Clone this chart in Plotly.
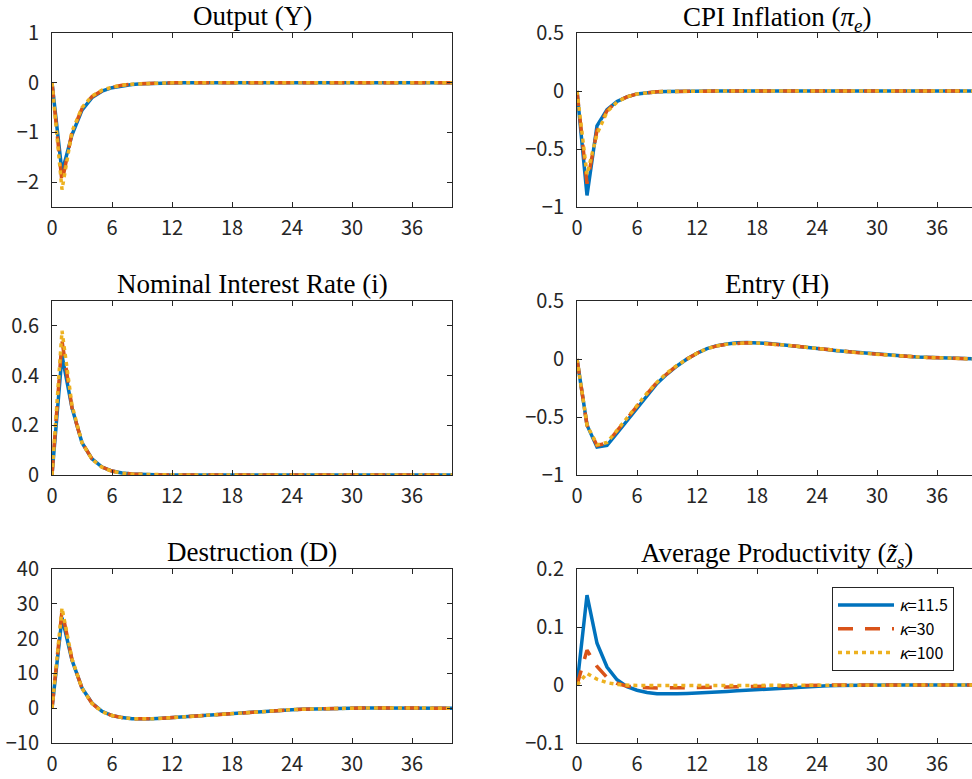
import plotly.graph_objects as go

# ---------------- data ----------------
quarters = list(range(41))
kappa_labels = ["<i>κ</i>=11.5", "<i>κ</i>=30", "<i>κ</i>=100"]
titles = ["Output (Y)", "CPI Inflation (<i>π<sub>e</sub></i>)",
          "Nominal Interest Rate (i)", "Entry (H)",
          "Destruction (D)", "Average Productivity (<i>z̃<sub>s</sub></i>)"]
xtick_vals = [0, 6, 12, 18, 24, 30, 36]

Z = [0.0] * 20

Y_k11 = [0, -1.80, -1.05, -0.55, -0.30, -0.17, -0.10, -0.06, -0.035, -0.02, -0.012, -0.007, -0.004, -0.002, -0.001, 0, 0, 0, 0, 0, 0] + Z
Y_k30 = [0, -2.00, -1.00, -0.52, -0.28, -0.16, -0.09, -0.05, -0.03, -0.018, -0.010, -0.006, -0.003, -0.002, -0.001, 0, 0, 0, 0, 0, 0] + Z
Y_k100 = [0, -2.15, -0.98, -0.50, -0.27, -0.15, -0.09, -0.05, -0.03, -0.017, -0.010, -0.006, -0.003, -0.002, -0.001, 0, 0, 0, 0, 0, 0] + Z

pi_k11 = [0, -0.90, -0.30, -0.16, -0.09, -0.05, -0.025, -0.013, -0.007, -0.004, -0.002, -0.001, 0, 0, 0, 0, 0, 0, 0, 0, 0] + Z
pi_k30 = [0, -0.80, -0.34, -0.17, -0.09, -0.05, -0.025, -0.013, -0.007, -0.004, -0.002, -0.001, 0, 0, 0, 0, 0, 0, 0, 0, 0] + Z
pi_k100 = [0, -0.72, -0.37, -0.18, -0.095, -0.05, -0.026, -0.013, -0.007, -0.004, -0.002, -0.001, 0, 0, 0, 0, 0, 0, 0, 0, 0] + Z

i_k11 = [0, 0.48, 0.27, 0.13, 0.065, 0.032, 0.016, 0.008, 0.004, 0.002, 0.001, 0, 0, 0, 0, 0, 0, 0, 0, 0, 0] + Z
i_k30 = [0, 0.54, 0.27, 0.13, 0.065, 0.032, 0.016, 0.008, 0.004, 0.002, 0.001, 0, 0, 0, 0, 0, 0, 0, 0, 0, 0] + Z
i_k100 = [0, 0.58, 0.28, 0.13, 0.063, 0.031, 0.015, 0.007, 0.003, 0.002, 0.001, 0, 0, 0, 0, 0, 0, 0, 0, 0, 0] + Z

H_k11 = [0, -0.57, -0.76, -0.745, -0.64, -0.53, -0.42, -0.31, -0.21, -0.13, -0.06, 0.0, 0.05, 0.09, 0.115,
         0.13, 0.14, 0.142, 0.14, 0.135, 0.128, 0.12, 0.11, 0.10, 0.09, 0.081, 0.072, 0.064, 0.056, 0.048,
         0.041, 0.035, 0.029, 0.023, 0.018, 0.014, 0.010, 0.007, 0.004, 0.002, 0.0]
H_k30 = [0, -0.57, -0.745, -0.725, -0.62, -0.51, -0.40, -0.30, -0.20, -0.125, -0.055, 0.0, 0.05, 0.09, 0.113,
         0.128, 0.137, 0.14, 0.138, 0.133, 0.126, 0.118, 0.109, 0.099, 0.089, 0.080, 0.071, 0.063, 0.055, 0.047,
         0.040, 0.034, 0.028, 0.023, 0.018, 0.014, 0.010, 0.007, 0.004, 0.002, 0.0]
H_k100 = [0, -0.57, -0.74, -0.72, -0.615, -0.505, -0.395, -0.295, -0.20, -0.12, -0.055, 0.0, 0.05, 0.09, 0.113,
          0.128, 0.137, 0.14, 0.138, 0.133, 0.126, 0.118, 0.109, 0.099, 0.089, 0.080, 0.071, 0.063, 0.055, 0.047,
          0.040, 0.034, 0.028, 0.023, 0.018, 0.014, 0.010, 0.007, 0.004, 0.002, 0.0]

D_k11 = [0, 26.0, 13.8, 5.8, 1.5, -0.9, -2.1, -2.7, -3.0, -3.1, -3.05, -2.9, -2.7, -2.5, -2.3,
         -2.05, -1.8, -1.6, -1.4, -1.2, -1.0, -0.85, -0.7, -0.55, -0.42, -0.3, -0.2, -0.12, -0.05, 0.0,
         0.04, 0.06, 0.07, 0.07, 0.06, 0.05, 0.04, 0.03, 0.02, 0.01, 0.0]
D_k30 = [0, 28.0, 14.0, 5.7, 1.4, -1.0, -2.1, -2.7, -3.0, -3.1, -3.05, -2.9, -2.7, -2.5, -2.3,
         -2.05, -1.8, -1.6, -1.4, -1.2, -1.0, -0.85, -0.7, -0.55, -0.42, -0.3, -0.2, -0.12, -0.05, 0.0,
         0.04, 0.06, 0.07, 0.07, 0.06, 0.05, 0.04, 0.03, 0.02, 0.01, 0.0]
D_k100 = [0, 28.8, 14.1, 5.7, 1.4, -1.0, -2.1, -2.7, -3.0, -3.1, -3.05, -2.9, -2.7, -2.5, -2.3,
          -2.05, -1.8, -1.6, -1.4, -1.2, -1.0, -0.85, -0.7, -0.55, -0.42, -0.3, -0.2, -0.12, -0.05, 0.0,
          0.04, 0.06, 0.07, 0.07, 0.06, 0.05, 0.04, 0.03, 0.02, 0.01, 0.0]

z_k11 = [0, 0.155, 0.072, 0.031, 0.009, -0.003, -0.009, -0.013, -0.015, -0.0155, -0.015, -0.0145, -0.014, -0.013, -0.012,
         -0.011, -0.010, -0.009, -0.008, -0.0065, -0.005, -0.004, -0.003, -0.0025, -0.002, -0.0015, -0.001, -0.0005, 0, 0,
         0, 0, 0, 0, 0, 0, 0, 0, 0, 0, 0]
z_k30 = [0, 0.060, 0.032, 0.013, 0.003, -0.002, -0.004, -0.005, -0.005, -0.005, -0.005, -0.0045, -0.004, -0.004, -0.004,
         -0.0035, -0.003, -0.0025, -0.002, -0.0015, -0.001, -0.001, -0.0005, 0, 0, 0, 0, 0, 0, 0,
         0, 0, 0, 0, 0, 0, 0, 0, 0, 0, 0]
z_k100 = [0, 0.020, 0.010, 0.004, 0.001, -0.0005, -0.001, -0.001, -0.001, -0.001, -0.001, -0.001, -0.001, -0.001, -0.001,
          -0.0008, -0.0006, -0.0004, -0.0002, 0, 0, 0, 0, 0, 0, 0, 0, 0, 0, 0,
          0, 0, 0, 0, 0, 0, 0, 0, 0, 0, 0]

series = [
    [Y_k11, Y_k30, Y_k100],
    [pi_k11, pi_k30, pi_k100],
    [i_k11, i_k30, i_k100],
    [H_k11, H_k30, H_k100],
    [D_k11, D_k30, D_k100],
    [z_k11, z_k30, z_k100],
]
y_ranges = [[-2.5, 1], [-1, 0.5], [0, 0.7], [-1, 0.5], [-10, 40], [-0.1, 0.2]]
y_tickvals = [[-2, -1, 0, 1], [-1, -0.5, 0, 0.5], [0, 0.2, 0.4, 0.6],
              [-1, -0.5, 0, 0.5], [-10, 0, 10, 20, 30, 40], [-0.1, 0, 0.1, 0.2]]
y_ticktext = [["−2", "−1", "0", "1"], ["−1", "−0.5", "0", "0.5"], ["0", "0.2", "0.4", "0.6"],
              ["−1", "−0.5", "0", "0.5"], ["−10", "0", "10", "20", "30", "40"], ["−0.1", "0", "0.1", "0.2"]]

# ---------------- style ----------------
W, H = 972, 779
colors = ["#0072BD", "#D95319", "#EDB120"]
dashes = ["solid", "15px,12px", "4px,4px"]
axcol = "#262626"
tickfont = dict(family="Noto Sans CJK JP, Liberation Sans, sans-serif", size=20, color=axcol)


def px_x(v):
    return v / W


def px_y(v):
    return 1 - v / H


x_left = [px_x(52), px_x(452)]
x_right = [px_x(577), 1.0]
row_px = [(33, 207), (301, 475), (569, 743)]

fig = go.Figure()
layout = dict(width=W, height=H, margin=dict(l=0, r=0, t=0, b=0, autoexpand=False),
              paper_bgcolor="white", plot_bgcolor="white", showlegend=True)
annotations = []

for p in range(6):
    row, col = divmod(p, 2)
    n = p + 1
    xa = "xaxis" if n == 1 else f"xaxis{n}"
    ya = "yaxis" if n == 1 else f"yaxis{n}"
    xr = "x" if n == 1 else f"x{n}"
    yr = "y" if n == 1 else f"y{n}"
    top, bot = row_px[row]
    ydom = [px_y(bot), px_y(top)]
    xdom = x_left if col == 0 else x_right
    xrange = [0, 40] if col == 0 else [0, 39.5]

    for k in range(3):
        fig.add_trace(go.Scatter(
            x=quarters, y=series[p][k], mode="lines",
            line=dict(color=colors[k], width=3.5, dash=dashes[k]),
            name=kappa_labels[k], showlegend=(p == 5),
            xaxis=xr, yaxis=yr))

    layout[xa] = dict(domain=xdom, range=xrange, anchor=yr, automargin=False,
                      showline=True, linecolor=axcol, linewidth=1, mirror="ticks",
                      ticks="inside", ticklen=5, tickcolor=axcol,
                      tickvals=xtick_vals, ticktext=[str(v) for v in xtick_vals],
                      tickfont=tickfont, showgrid=False, zeroline=False,
                      ticklabelstandoff=3)
    layout[ya] = dict(domain=ydom, range=y_ranges[p], anchor=xr, automargin=False,
                      showline=True, linecolor=axcol, linewidth=1,
                      mirror=("ticks" if col == 0 else False),
                      ticks="inside", ticklen=5, tickcolor=axcol,
                      tickvals=y_tickvals[p], ticktext=y_ticktext[p],
                      tickfont=tickfont, showgrid=False, zeroline=False,
                      ticklabelstandoff=8)
    cx = px_x((52 + 452) / 2) if col == 0 else px_x(777)
    has_sub = "<sub>" in titles[p]
    annotations.append(dict(text=titles[p], xref="paper", yref="paper",
                            x=cx, y=ydom[1], xanchor="center", yanchor="bottom",
                            yshift=(-4 if has_sub else 1), borderpad=0, showarrow=False,
                            font=dict(family="Liberation Serif, serif", size=27, color="black")))

layout["annotations"] = annotations
layout["legend"] = dict(x=px_x(832), y=px_y(587), xanchor="left", yanchor="top",
                        bgcolor="white", bordercolor=axcol, borderwidth=1,
                        font=dict(family="Noto Sans CJK JP, Liberation Sans, sans-serif", size=16, color="black"),
                        tracegroupgap=0, itemwidth=56)
fig.update_layout(**layout)
fig.write_html("out.html", config={"displayModeBar": False},
               post_script="document.body.style.margin='0px';")
